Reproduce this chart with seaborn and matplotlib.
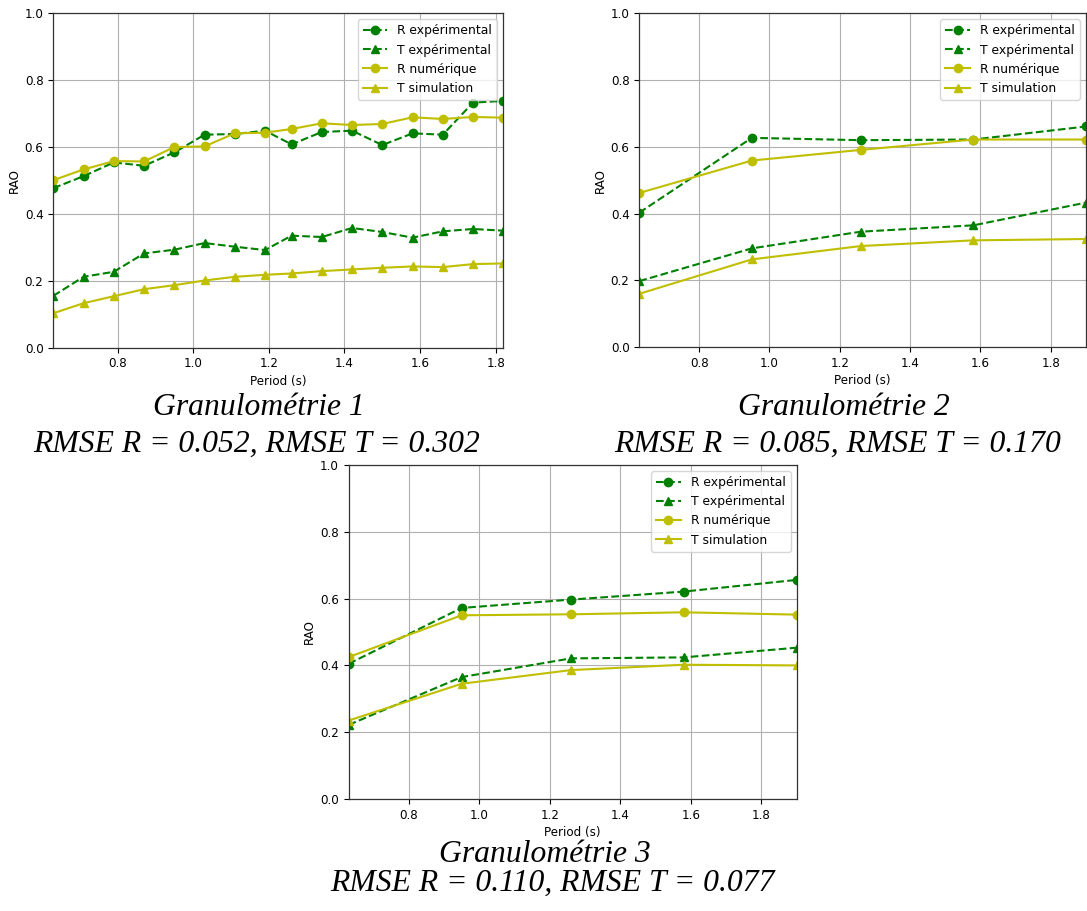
import matplotlib
matplotlib.use("Agg")
import matplotlib.pyplot as plt
import seaborn as sns
import pandas as pd

# Periods (s)
period_1 = [0.63, 0.71, 0.79, 0.87, 0.95, 1.03, 1.11, 1.19, 1.26, 1.34, 1.42, 1.50, 1.58, 1.66, 1.74, 1.82]
period_23 = [0.63, 0.95, 1.26, 1.58, 1.90]

# Granulométrie 1
r_exp_1 = [0.477, 0.513, 0.554, 0.544, 0.584, 0.637, 0.639, 0.649, 0.608, 0.645, 0.649, 0.606, 0.641, 0.637, 0.733, 0.738]
t_exp_1 = [0.155, 0.212, 0.227, 0.282, 0.293, 0.313, 0.302, 0.292, 0.335, 0.331, 0.358, 0.346, 0.329, 0.348, 0.355, 0.350]
r_num_1 = [0.501, 0.533, 0.558, 0.557, 0.600, 0.602, 0.641, 0.643, 0.654, 0.671, 0.666, 0.669, 0.689, 0.684, 0.690, 0.688]
t_sim_1 = [0.103, 0.133, 0.154, 0.175, 0.187, 0.201, 0.212, 0.218, 0.222, 0.229, 0.234, 0.239, 0.243, 0.241, 0.250, 0.252]

# Granulométrie 2
r_exp_2 = [0.403, 0.627, 0.620, 0.622, 0.661]
t_exp_2 = [0.198, 0.296, 0.346, 0.365, 0.433]
r_num_2 = [0.462, 0.559, 0.591, 0.622, 0.622]
t_sim_2 = [0.160, 0.263, 0.303, 0.320, 0.324]

# Granulométrie 3
r_exp_3 = [0.405, 0.572, 0.597, 0.621, 0.656]
t_exp_3 = [0.222, 0.365, 0.421, 0.424, 0.453]
r_num_3 = [0.425, 0.550, 0.553, 0.559, 0.552]
t_sim_3 = [0.235, 0.345, 0.386, 0.402, 0.400]

series_labels = ["R expérimental", "T expérimental", "R numérique", "T simulation"]
captions_title = ["Granulométrie 1", "Granulométrie 2", "Granulométrie 3"]
captions_rmse = ["RMSE R = 0.052, RMSE T = 0.302",
                 "RMSE R = 0.085, RMSE T = 0.170",
                 "RMSE R = 0.110, RMSE T = 0.077"]

plt.rcParams["font.family"] = ["DejaVu Sans"]

W, H = 1087, 911
fig = plt.figure(figsize=(W / 100, H / 100), dpi=100)


def px_axes(left, top, right, bottom):
    return fig.add_axes([left / W, 1 - bottom / H, (right - left) / W, (bottom - top) / H])


panels = [
    (px_axes(53.3, 13.3, 503.3, 347.7), period_1, (r_exp_1, t_exp_1, r_num_1, t_sim_1)),
    (px_axes(639.3, 13.3, 1086.0, 347.2), period_23, (r_exp_2, t_exp_2, r_num_2, t_sim_2)),
    (px_axes(348.7, 465.0, 796.7, 799.0), period_23, (r_exp_3, t_exp_3, r_num_3, t_sim_3)),
]

styles = [
    dict(color="g", marker="o", linestyle="--"),
    dict(color="g", marker="^", linestyle="--"),
    dict(color="y", marker="o", linestyle="-"),
    dict(color="y", marker="^", linestyle="-"),
]

for ax, x, ys in panels:
    for y, lab, st in zip(ys, series_labels, styles):
        df = pd.DataFrame({"Period": x, "RAO": y})
        sns.lineplot(data=df, x="Period", y="RAO", ax=ax, label=lab,
                     color=st["color"], marker=st["marker"], linestyle=st["linestyle"],
                     markersize=6, markeredgecolor=st["color"], markeredgewidth=1.0,
                     linewidth=1.5)
    ax.set_xlim(min(x), max(x))
    ax.set_ylim(0.0, 1.0)
    ax.set_xticks([0.8, 1.0, 1.2, 1.4, 1.6, 1.8])
    ax.set_yticks([0.0, 0.2, 0.4, 0.6, 0.8, 1.0])
    ax.set_xlabel("Period (s)", fontsize=8.6, labelpad=3)
    ax.set_ylabel("RAO", fontsize=8.6, labelpad=3)
    ax.tick_params(labelsize=8.6, length=3.5)
    ax.grid(True, color="#b0b0b0", linewidth=0.8)
    ax.set_axisbelow(True)
    for sp in ax.spines.values():
        sp.set_color("#333333")
        sp.set_linewidth(0.9)
    ax.legend(loc="upper right", fontsize=8.9, framealpha=0.8, edgecolor="#cccccc")

cap_font = dict(family="Liberation Serif", style="italic", ha="center", va="baseline", color="black")
# (title centre x, title baseline y, rmse centre x, rmse baseline y) in pixels
cap_pos = [(259, 415, 257, 452), (844, 415, 838, 452), (545, 862, 552, 891)]
cap_size = 22.8
for (tx, ty, rx, ry), t1, t2 in zip(cap_pos, captions_title, captions_rmse):
    fig.text(tx / W, 1 - ty / H, t1, fontsize=cap_size, **cap_font)
    fig.text(rx / W, 1 - ry / H, t2, fontsize=cap_size, **cap_font)

fig.savefig("out.png", dpi=100)
